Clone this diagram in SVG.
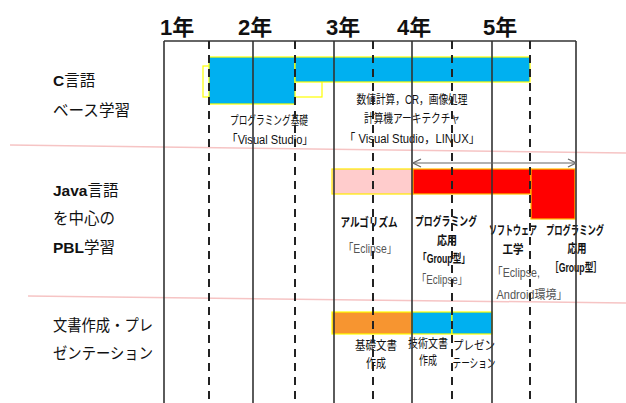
<svg xmlns="http://www.w3.org/2000/svg" width="626" height="403" viewBox="0 0 626 403">
<style>
text{font-family:"Liberation Sans","Noto Sans CJK JP",sans-serif;fill:#111}
.yr{font-size:22px;font-weight:bold}
.lab{font-size:15.5px}
.b{font-weight:bold}
.s{font-size:12.5px;text-anchor:middle}
.g{fill:#555}
.solid{stroke:#333;stroke-width:1.6;fill:none}
.dash{stroke:#222;stroke-width:2;stroke-dasharray:8 6;fill:none}
.sep{stroke:#F6C4C4;stroke-width:1.5;fill:none}
.blue{fill:#00B0F0;stroke:#FFFF00;stroke-width:1.2}
.pink{fill:#FFCCCC;stroke:#FFEA00;stroke-width:1.2}
.red{fill:#FF0000;stroke:#FFC000;stroke-width:1.2}
.orange{fill:#F79530;stroke:#FFFF00;stroke-width:1.2}
</style>
<defs>
<marker id="ah" markerWidth="10" markerHeight="10" refX="9" refY="5" orient="auto-start-reverse" markerUnits="userSpaceOnUse">
<path d="M1,1 L9,5 L1,9" fill="none" stroke="#666" stroke-width="1.2"/>
</marker>
</defs>
<rect width="626" height="403" fill="#fff"/>

<g id="years">
<text class="yr" x="160" y="35">1年</text>
<text class="yr" x="238" y="35">2年</text>
<text class="yr" x="326" y="35">3年</text>
<text class="yr" x="397" y="35">4年</text>
<text class="yr" x="483" y="35">5年</text>
</g>

<g id="separators">
<line class="sep" x1="10" y1="145" x2="626" y2="153"/>
<line class="sep" x1="28" y1="296" x2="626" y2="303"/>
</g>

<g id="row-labels">
<text class="lab" x="53" y="86"><tspan class="b">C</tspan>言語</text>
<text class="lab" x="53" y="116" textLength="77" lengthAdjust="spacingAndGlyphs">ベース学習</text>
<text class="lab" x="53" y="196"><tspan class="b">Java</tspan>言語</text>
<text class="lab" x="53" y="224">を中心の</text>
<text class="lab" x="53" y="253"><tspan class="b">PBL</tspan>学習</text>
<text class="lab" x="53" y="331" textLength="100" lengthAdjust="spacingAndGlyphs">文書作成・プレ</text>
<text class="lab" x="53" y="359" textLength="100" lengthAdjust="spacingAndGlyphs">ゼンテーション</text>
</g>

<g id="c-basics">
<rect x="203" y="66" width="119" height="31" fill="none" stroke="#FFFF00" stroke-width="1.2"/>
<rect class="blue" x="209" y="57" width="86" height="47"/>
<text class="s" x="269" y="125" textLength="78" lengthAdjust="spacingAndGlyphs">プログラミング基礎</text>
<text class="s" x="270" y="144" textLength="87" lengthAdjust="spacingAndGlyphs">「Visual Studio」</text>
</g>

<g id="c-advanced">
<rect class="blue" x="295" y="57" width="235" height="25"/>
<text class="s" x="412" y="104" textLength="111" lengthAdjust="spacingAndGlyphs">数値計算，CR，画像処理</text>
<text class="s" x="412" y="123" textLength="96" lengthAdjust="spacingAndGlyphs">計算機アーキテクチャ</text>
<text class="s" x="412" y="143" textLength="136" lengthAdjust="spacingAndGlyphs">「 Visual Studio，LINUX」</text>
</g>

<g id="java-algorithm">
<rect class="pink" x="332" y="169" width="81" height="25"/>
<text class="s b" x="369" y="227" textLength="57" lengthAdjust="spacingAndGlyphs">アルゴリズム</text>
<text class="s g" x="370" y="253" textLength="54" lengthAdjust="spacingAndGlyphs">「Eclipse」</text>
</g>

<g id="java-app1">
<rect class="red" x="413" y="169" width="118" height="25"/>
<text class="s b" x="446" y="226" textLength="62" lengthAdjust="spacingAndGlyphs">プログラミング</text>
<text class="s b" x="447" y="245" textLength="20" lengthAdjust="spacingAndGlyphs">応用</text>
<text class="s b" x="444" y="263" textLength="52" lengthAdjust="spacingAndGlyphs">「Group型」</text>
<text class="s g" x="442" y="284" textLength="51" lengthAdjust="spacingAndGlyphs">「Eclipse」</text>
</g>

<g id="java-se">
<text class="s b" x="513" y="235" textLength="48" lengthAdjust="spacingAndGlyphs">ソフトウェア</text>
<text class="s b" x="513" y="254" textLength="21" lengthAdjust="spacingAndGlyphs">工学</text>
<text class="s g" x="516" y="277" textLength="48" lengthAdjust="spacingAndGlyphs">「Eclipse,</text>
<text class="s g" x="532" y="299" textLength="71" lengthAdjust="spacingAndGlyphs">Android環境」</text>
</g>

<g id="java-app2">
<rect class="red" x="531" y="169" width="44" height="50"/>
<text class="s b" x="575" y="235" textLength="58" lengthAdjust="spacingAndGlyphs">プログラミング</text>
<text class="s b" x="577" y="253" textLength="19" lengthAdjust="spacingAndGlyphs">応用</text>
<text class="s b" x="576" y="272" textLength="52" lengthAdjust="spacingAndGlyphs">［Group型］</text>
</g>

<g id="doc-basic">
<rect class="orange" x="332" y="312" width="80" height="22"/>
<text class="s" x="376" y="350" textLength="42" lengthAdjust="spacingAndGlyphs">基礎文書</text>
<text class="s" x="376" y="368" textLength="20" lengthAdjust="spacingAndGlyphs">作成</text>
</g>

<g id="doc-tech">
<rect class="blue" x="412" y="312" width="40" height="22"/>
<text class="s" x="428" y="348" textLength="40" lengthAdjust="spacingAndGlyphs">技術文書</text>
<text class="s" x="428" y="365" textLength="18" lengthAdjust="spacingAndGlyphs">作成</text>
</g>

<g id="doc-present">
<rect class="blue" x="452" y="312" width="40" height="22"/>
<text class="s" x="474" y="350" textLength="42" lengthAdjust="spacingAndGlyphs">プレゼン</text>
<text class="s" x="474" y="368" textLength="43" lengthAdjust="spacingAndGlyphs">テーション</text>
</g>

<g id="connectors">
<line class="solid" x1="164" y1="41" x2="576" y2="41"/>
<line class="solid" x1="164" y1="41" x2="164" y2="403"/>
<line class="solid" x1="253" y1="41" x2="253" y2="403"/>
<line class="solid" x1="334" y1="41" x2="334" y2="403"/>
<line class="solid" x1="412" y1="41" x2="412" y2="403"/>
<line class="solid" x1="492" y1="41" x2="492" y2="403"/>
<line class="solid" x1="576" y1="41" x2="576" y2="403"/>
<line class="dash" x1="209" y1="41" x2="209" y2="403"/>
<line class="dash" x1="295" y1="41" x2="295" y2="403"/>
<line class="dash" x1="373" y1="41" x2="373" y2="403"/>
<line class="dash" x1="452" y1="41" x2="452" y2="403"/>
<line class="dash" x1="530" y1="41" x2="530" y2="403"/>
<line x1="413" y1="163" x2="576" y2="163" stroke="#666" stroke-width="1.2" marker-start="url(#ah)" marker-end="url(#ah)"/>
</g>
</svg>
